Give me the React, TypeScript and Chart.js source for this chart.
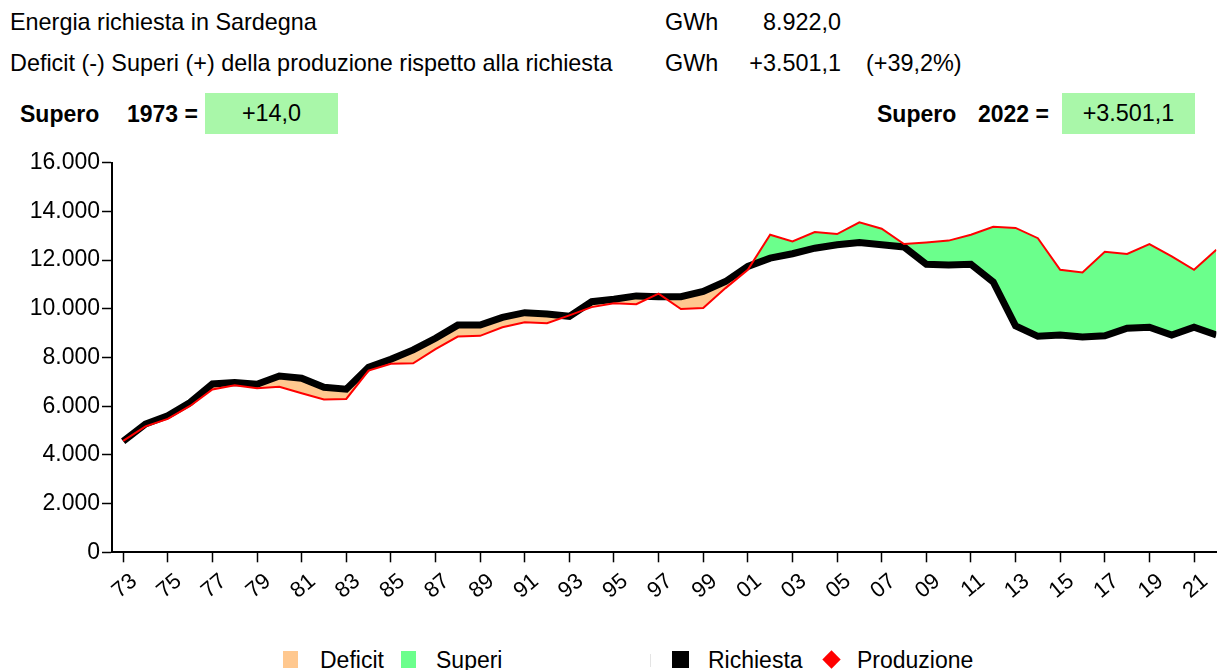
import React, { useEffect, useRef } from "react";
import { Chart, registerables } from "chart.js";

Chart.register(...registerables);

const years: number[] = [
  1973, 1974, 1975, 1976, 1977, 1978, 1979, 1980, 1981, 1982,
  1983, 1984, 1985, 1986, 1987, 1988, 1989, 1990, 1991, 1992,
  1993, 1994, 1995, 1996, 1997, 1998, 1999, 2000, 2001, 2002,
  2003, 2004, 2005, 2006, 2007, 2008, 2009, 2010, 2011, 2012,
  2013, 2014, 2015, 2016, 2017, 2018, 2019, 2020, 2021, 2022,
];

const richiesta: number[] = [
  4560, 5270, 5610, 6150, 6910, 6970, 6900, 7240, 7150, 6780,
  6700, 7600, 7930, 8310, 8790, 9330, 9330, 9650, 9840, 9790,
  9690, 10290, 10390, 10530, 10500, 10500, 10710, 11120, 11740, 12080,
  12260, 12490, 12630, 12720, 12630, 12540, 11830, 11800, 11830, 11100,
  9300, 8870, 8920, 8840, 8890, 9200, 9240, 8920, 9240, 8922.0,
];

const produzione: number[] = [
  4574, 5170, 5480, 6010, 6690, 6860, 6740, 6800, 6530, 6280,
  6300, 7460, 7740, 7760, 8340, 8860, 8890, 9240, 9450, 9410,
  9730, 10070, 10230, 10190, 10620, 9990, 10030, 10850, 11600, 13040,
  12770, 13150, 13070, 13550, 13290, 12660, 12720, 12800, 13040, 13370,
  13320, 12900, 11600, 11490, 12340, 12250, 12660, 12150, 11600, 12423.1,
];

const yTicks: number[] = [0, 2000, 4000, 6000, 8000, 10000, 12000, 14000, 16000];
const xTickYears: number[] = [
  1973, 1975, 1977, 1979, 1981, 1983, 1985, 1987, 1989, 1991, 1993, 1995,
  1997, 1999, 2001, 2003, 2005, 2007, 2009, 2011, 2013, 2015, 2017, 2019, 2021,
];

const FONT = "'Liberation Sans', Arial, Helvetica, sans-serif";
const GREEN = "#6bff8c";
const ORANGE = "#ffc88f";
const BOX_GREEN = "#a9f7a9";

const fmtIt = (v: number) => {
  const s = Math.round(v).toString();
  return s.replace(/\B(?=(\d{3})+(?!\d))/g, ".");
};

function ChartCanvas() {
  const ref = useRef<HTMLCanvasElement | null>(null);
  useEffect(() => {
    if (!ref.current) return;
    const chart = new Chart(ref.current, {
      type: "line",
      data: {
        datasets: [
          {
            label: "Produzione",
            data: years.map((y, i) => ({ x: y, y: produzione[i] })),
            borderColor: "#ff0000",
            borderWidth: 2,
            pointRadius: 0,
            tension: 0,
            fill: { target: 1, above: GREEN, below: ORANGE },
          },
          {
            label: "Richiesta",
            data: years.map((y, i) => ({ x: y, y: richiesta[i] })),
            borderColor: "#000000",
            borderWidth: 7,
            pointRadius: 0,
            tension: 0,
            fill: false,
          },
        ],
      },
      options: {
        animation: false,
        responsive: false,
        maintainAspectRatio: false,
        layout: { padding: { top: 22.7, left: 0, right: 0, bottom: 0 } },
        plugins: {
          legend: { display: false },
          tooltip: { enabled: false },
          filler: { drawTime: "beforeDatasetsDraw" },
        },
        scales: {
          x: {
            type: "linear",
            min: 1972.5,
            max: 2022,
            afterBuildTicks: (scale: any) => {
              scale.ticks = xTickYears.map((v) => ({ value: v }));
            },
            afterFit: (scale: any) => {
              scale.height = 67.7;
            },
            grid: {
              display: true,
              drawOnChartArea: false,
              drawTicks: true,
              tickLength: 10,
              tickWidth: 1.5,
              tickColor: "#000",
            },
            border: { display: true, color: "#000", width: 2 },
            ticks: {
              autoSkip: false,
              minRotation: 40,
              maxRotation: 40,
              padding: 6,
              labelOffset: 11,
              color: "#000",
              font: { family: FONT, size: 22 },
              callback: (v: any) => String(Number(v) % 100).padStart(2, "0"),
            },
          },
          y: {
            min: 0,
            max: 16000,
            afterBuildTicks: (scale: any) => {
              scale.ticks = yTicks.map((v) => ({ value: v }));
            },
            afterFit: (scale: any) => {
              scale.width = 112;
            },
            grid: {
              display: true,
              drawOnChartArea: false,
              drawTicks: true,
              tickLength: 10,
              tickWidth: 1.5,
              tickColor: "#000",
            },
            border: { display: true, color: "#000", width: 2 },
            ticks: {
              padding: 2,
              color: "#000",
              font: { family: FONT, size: 23 },
              callback: (v: any) => fmtIt(Number(v)),
            },
          },
        },
      },
    } as any);
    return () => chart.destroy();
  }, []);
  return <canvas ref={ref} width={1217} height={480} style={{ display: "block", width: 1217, height: 480 }} />;
}

const abs = (left: number, top: number, extra: React.CSSProperties = {}): React.CSSProperties => ({
  position: "absolute",
  left,
  top,
  whiteSpace: "nowrap",
  ...extra,
});

export default function App() {
  const txt: React.CSSProperties = { fontFamily: FONT, fontSize: 23.4, color: "#000", lineHeight: "26px" };
  const bold: React.CSSProperties = { ...txt, fontSize: 23, fontWeight: "bold" };
  const leg: React.CSSProperties = { fontFamily: FONT, fontSize: 23, color: "#000", lineHeight: "26px" };
  return (
    <div style={{ position: "fixed", left: 0, top: 0, width: 1217, height: 670, overflow: "hidden", background: "#fff" }}>
      <div style={abs(10, 9, txt)}>Energia richiesta in Sardegna</div>
      <div style={abs(665, 9, txt)}>GWh</div>
      <div style={abs(741, 9, { ...txt, width: 100, textAlign: "right" })}>8.922,0</div>
      <div style={abs(10, 50, txt)}>Deficit (-) Superi (+) della produzione rispetto alla richiesta</div>
      <div style={abs(665, 50, txt)}>GWh</div>
      <div style={abs(741, 50, { ...txt, width: 100, textAlign: "right" })}>+3.501,1</div>
      <div style={abs(866, 50, txt)}>(+39,2%)</div>

      <div style={abs(20, 101, bold)}>Supero</div>
      <div style={abs(127, 101, bold)}>1973 =</div>
      <div style={abs(205, 93, { ...txt, width: 133, height: 41, background: BOX_GREEN, textAlign: "center", lineHeight: "41px" })}>+14,0</div>
      <div style={abs(877, 101, bold)}>Supero</div>
      <div style={abs(978, 101, bold)}>2022 =</div>
      <div style={abs(1062, 93, { ...txt, width: 133, height: 41, background: BOX_GREEN, textAlign: "center", lineHeight: "41px" })}>+3.501,1</div>

      <div style={abs(0, 140)}>
        <ChartCanvas />
      </div>

      <div style={abs(283, 651, { width: 15, height: 17, background: ORANGE })} />
      <div style={abs(320, 647, leg)}>Deficit</div>
      <div style={abs(401, 651, { width: 15, height: 17, background: GREEN })} />
      <div style={abs(436, 647, leg)}>Superi</div>
      <div style={abs(650, 654, { width: 1, height: 13, background: "#e4e4e4" })} />
      <div style={abs(672, 651, { width: 17, height: 17, background: "#000" })} />
      <div style={abs(708, 647, leg)}>Richiesta</div>
      <div style={abs(825, 653, { width: 13, height: 13, background: "#ff0000", transform: "rotate(45deg)" })} />
      <div style={abs(857, 647, leg)}>Produzione</div>
    </div>
  );
}
